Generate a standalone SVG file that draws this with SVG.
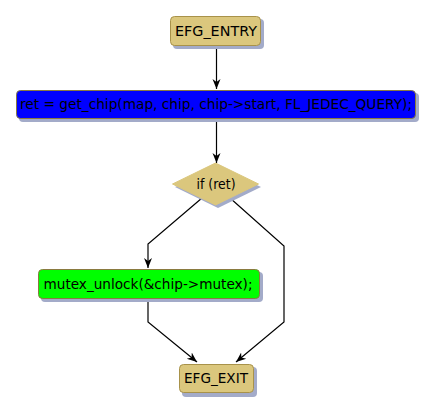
<svg xmlns="http://www.w3.org/2000/svg" width="435" height="412" viewBox="0 0 435 412">
<defs>
<style>
.sh{fill:#a3abc9;}
.tan{fill:#dbc77d;stroke:#a8924a;stroke-width:1;}
.blue{fill:#0000ff;stroke:#8a7a40;stroke-width:1;}
.green{fill:#00ff00;stroke:#8a7a40;stroke-width:1;}
text{font-family:"DejaVu Sans",Verdana,sans-serif;font-size:14px;fill:#000;text-anchor:middle;}
.e{fill:none;stroke:#000;stroke-width:1.2;}
</style>
<marker id="ah" markerWidth="10" markerHeight="10" viewBox="0 0 10 10" refX="10" refY="5" orient="auto" markerUnits="userSpaceOnUse">
<path d="M0,1 L10,5 L0,9 L3,5 z" fill="#000"/>
</marker>
</defs>
<rect width="435" height="412" fill="#fff"/>
<g id="edges">
<path class="e" d="M216.5,46 V89" marker-end="url(#ah)"/>
<path class="e" d="M216.5,119 V163" marker-end="url(#ah)"/>
<path class="e" d="M202,198 L148,244 V268" marker-end="url(#ah)"/>
<path class="e" d="M230,198 L284,246 V322 L236,362" marker-end="url(#ah)"/>
<path class="e" d="M148,299 V322 L197,362" marker-end="url(#ah)"/>
</g>
<g id="efg_entry">
<rect class="sh" x="173" y="19" width="91" height="30" rx="4"/>
<rect class="tan" x="170.5" y="16.5" width="90" height="29" rx="4"/>
<text x="216" y="36" textLength="82" lengthAdjust="spacingAndGlyphs">EFG_ENTRY</text>
</g>
<g id="get_chip">
<rect class="sh" x="19" y="93" width="400" height="29" rx="4"/>
<rect class="blue" x="16.5" y="90.5" width="399" height="28" rx="4"/>
<text x="216" y="109" textLength="392" lengthAdjust="spacingAndGlyphs">ret = get_chip(map, chip, chip-&gt;start, FL_JEDEC_QUERY);</text>
</g>
<g id="if_ret">
<polygon class="sh" points="218,166 261,187 218,208 175,187"/>
<polygon points="215.5,163 258.5,184 215.5,205 172.5,184" fill="#dbc77d" stroke="#dbc77d"/>
<text x="216" y="189" textLength="39" lengthAdjust="spacingAndGlyphs">if (ret)</text>
</g>
<g id="mutex_unlock">
<rect class="sh" x="41" y="272" width="222" height="30" rx="4"/>
<rect class="green" x="38.5" y="269.5" width="221" height="29" rx="4"/>
<text x="148" y="289" textLength="209" lengthAdjust="spacingAndGlyphs">mutex_unlock(&amp;chip-&gt;mutex);</text>
</g>
<g id="efg_exit">
<rect class="sh" x="182" y="367" width="75" height="30" rx="4"/>
<rect class="tan" x="179.5" y="364.5" width="74" height="28" rx="4"/>
<text x="216" y="383" textLength="64" lengthAdjust="spacingAndGlyphs">EFG_EXIT</text>
</g>
</svg>
